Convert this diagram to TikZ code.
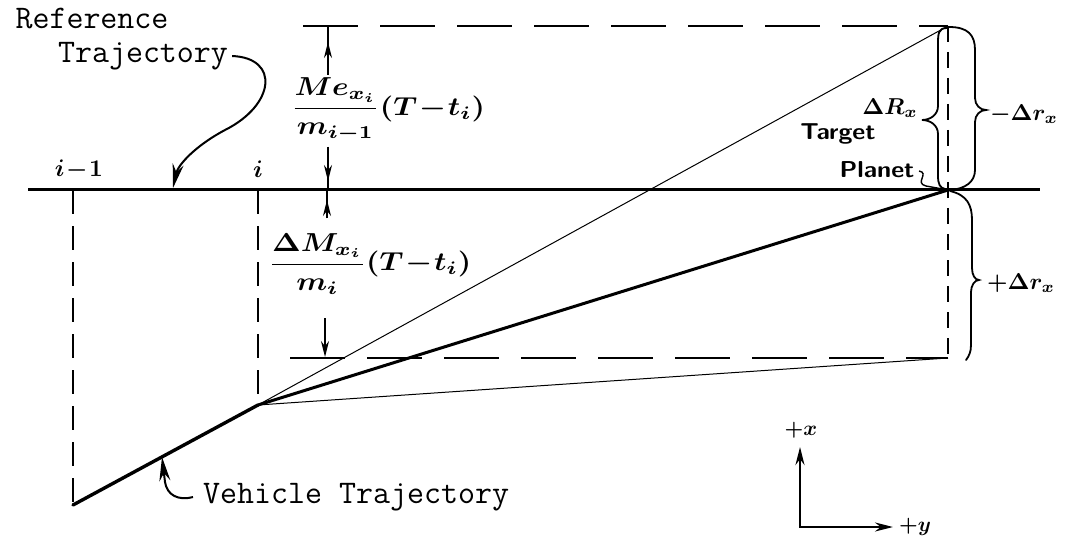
\documentclass[tikz,border=0pt]{standalone}
\usepackage{amsmath}
\usepackage{graphicx}
\usepackage{fontspec}
\usetikzlibrary{arrows.meta}
\newcommand{\hm}[1]{\scalebox{3.0}[2.6]{\boldmath#1}}
\newcommand{\sm}[1]{\scalebox{2.3}{\boldmath#1}}
\newcommand{\im}[1]{\scalebox{2.4}{\boldmath#1}}
\newcommand{\xm}[1]{\scalebox{2.1}{\boldmath#1}}
\begin{document}
\begin{tikzpicture}[x=1pt,y=-1pt,
  refline/.style={line width=3pt},
  trajline/.style={line width=3.4pt, line cap=round},
  thinline/.style={line width=1pt},
  vdash/.style={line width=1.8pt, dash pattern=on 24pt off 12pt},
  hdash/.style={line width=1.8pt, dash pattern=on 55pt off 22pt},
  pdash/.style={line width=1.8pt, dash pattern=on 16pt off 10pt},
  dimline/.style={line width=1.6pt},
  dimarrow/.style={line width=1.6pt, -{Stealth[length=16pt,width=8pt]}},
  bigarrow/.style={line width=2pt, -{Stealth[length=24pt,width=11pt]}},
  bracestyle/.style={line width=1.8pt, line cap=round},
  typelabel/.style={font=\ttfamily\fontsize{33}{35}\selectfont, inner sep=0pt},
  lbl/.style={inner sep=0pt},
  handtext/.style={inner sep=0pt, font=\sffamily\bfseries\fontsize{23}{25}\selectfont}
]
\useasboundingbox (0,0) rectangle (1065,540);

% key points
\coordinate (refL) at (28,190);
\coordinate (refR) at (1040,190);
\coordinate (tA) at (73,190);
\coordinate (vA) at (73,505);
\coordinate (tB) at (258,190);
\coordinate (K) at (258,405);
\coordinate (P) at (948,190);
\coordinate (Ptop) at (948,26);
\coordinate (Pbot) at (948,358);
\coordinate (topL) at (303,26);
\coordinate (botL) at (290,358);

% reference line
\draw[refline] (refL) -- (refR);
% dashed verticals
\draw[vdash] (tA) -- (vA);
\draw[vdash] (tB) -- (K);
\draw[pdash] (Ptop) -- (Pbot);
% dashed horizontals
\draw[hdash] (topL) -- (Ptop);
\draw[hdash] (botL) -- (Pbot);

% trajectories
\draw[trajline] (vA) -- (K);
\draw[line width=3pt, line cap=round] (K) -- (P);
\draw[thinline] (K) -- (Ptop);
\draw[thinline] (K) -- (Pbot);

% tick labels
\node[lbl] (lA) at (79,170) {\im{$i\!-\!1$}};
\node[lbl] (lB) at (258,169) {\im{$i$}};

% dimension arrows (upper)
\coordinate (d1a) at (328,75);
\coordinate (d1t) at (328,42);
\coordinate (d1e) at (328,26);
\draw[dimline] (d1a) -- (d1e);
\draw[dimarrow] (d1a) -- (d1t);
\coordinate (d2a) at (328,147);
\coordinate (d2t) at (328,181);
\coordinate (d2e) at (328,190);
\draw[dimline] (d2a) -- (d2e);
\draw[dimarrow] (d2a) -- (d2t);
\node[lbl] (mex) at (388,110) {\hm{$\dfrac{M e_{x_i}}{m_{i-1}}\!\left(T\!-\!t_i\right)$}};

% dimension arrows (lower)
\coordinate (d3a) at (327,218);
\coordinate (d3t) at (327,200);
\coordinate (d3e) at (327,190);
\draw[dimline] (d3a) -- (d3e);
\draw[dimarrow] (d3a) -- (d3t);
\coordinate (d4a) at (325,318);
\coordinate (d4t) at (325,357);
\draw[dimarrow] (d4a) -- (d4t);
\node[lbl] (dm) at (370,264) {\hm{$\dfrac{\Delta M_{x_i}}{m_i}\!\left(T\!-\!t_i\right)$}};

% braces
\draw[bracestyle] (947,28) .. controls (938,28) and (938,34) .. (938,45) -- (938,106) .. controls (938,115) and (930,120) .. (922,120) .. controls (930,120) and (938,125) .. (938,134) -- (938,176) .. controls (938,184) and (940,188) .. (945,189);
\draw[bracestyle] (949,27) .. controls (968,27) and (975,35) .. (975,50) -- (975,98) .. controls (975,105) and (980,110) .. (986,110) .. controls (980,110) and (975,115) .. (975,122) -- (975,170) .. controls (975,182) and (965,189) .. (950,190);
\draw[bracestyle] (950,191) .. controls (967,195) and (972,205) .. (972,220) -- (972,268) .. controls (972,275) and (975,280) .. (979,280) .. controls (975,280) and (971,285) .. (971,292) -- (971,345) .. controls (971,352) and (969,356) .. (966,360);

\node[lbl] (dRx) at (890,108) {\sm{$\Delta R_x$}};
\node[lbl] (mdr) at (1024,114) {\sm{$-\Delta r_x$}};
\node[lbl] (pdr) at (1021,283) {\sm{$+\Delta r_x$}};

% target planet
\node[handtext] (tgt) at (838,134) {\scalebox{1.1}[1]{Target}};
\node[handtext] (pln) at (877,170) {\scalebox{1.1}[1]{Planet}};
\coordinate (sq0) at (919,171);
\draw[line width=1.4pt, -{Stealth[length=9pt,width=5pt]}] (sq0) .. controls (930,173) and (914,183) .. (926,186) -- (P);

% reference trajectory label
\node[typelabel] (refT1) at (92,19) {Reference};
\node[typelabel] (refT2) at (143,56) {Trajectory};
\coordinate (rtip) at (173,188);
\draw[bigarrow] (refT2.east) ++(4,0) .. controls (280,58) and (275,105) .. (225,130) .. controls (195,146) and (178,165) .. (rtip);

% vehicle trajectory label
\node[typelabel, anchor=west] (vehT) at (203,497) {Vehicle Trajectory};
\coordinate (vtip) at (162,457);
\draw[bigarrow] (vehT.west) ++(-10,0) .. controls (178,501) and (167,495) .. (165,482) -- (vtip);

% axes
\coordinate (O) at (800,527);
\coordinate (ax) at (800,447);
\coordinate (ay) at (893,527);
\draw[line width=2.4pt, {Stealth[length=18pt,width=9pt]}-{Stealth[length=18pt,width=9pt]}] (ax) -- (O) -- (ay);
\node[lbl] (lx) at (801,430) {\xm{$+x$}};
\node[lbl] (ly) at (915,527) {\xm{$+y$}};
\end{tikzpicture}
\end{document}
